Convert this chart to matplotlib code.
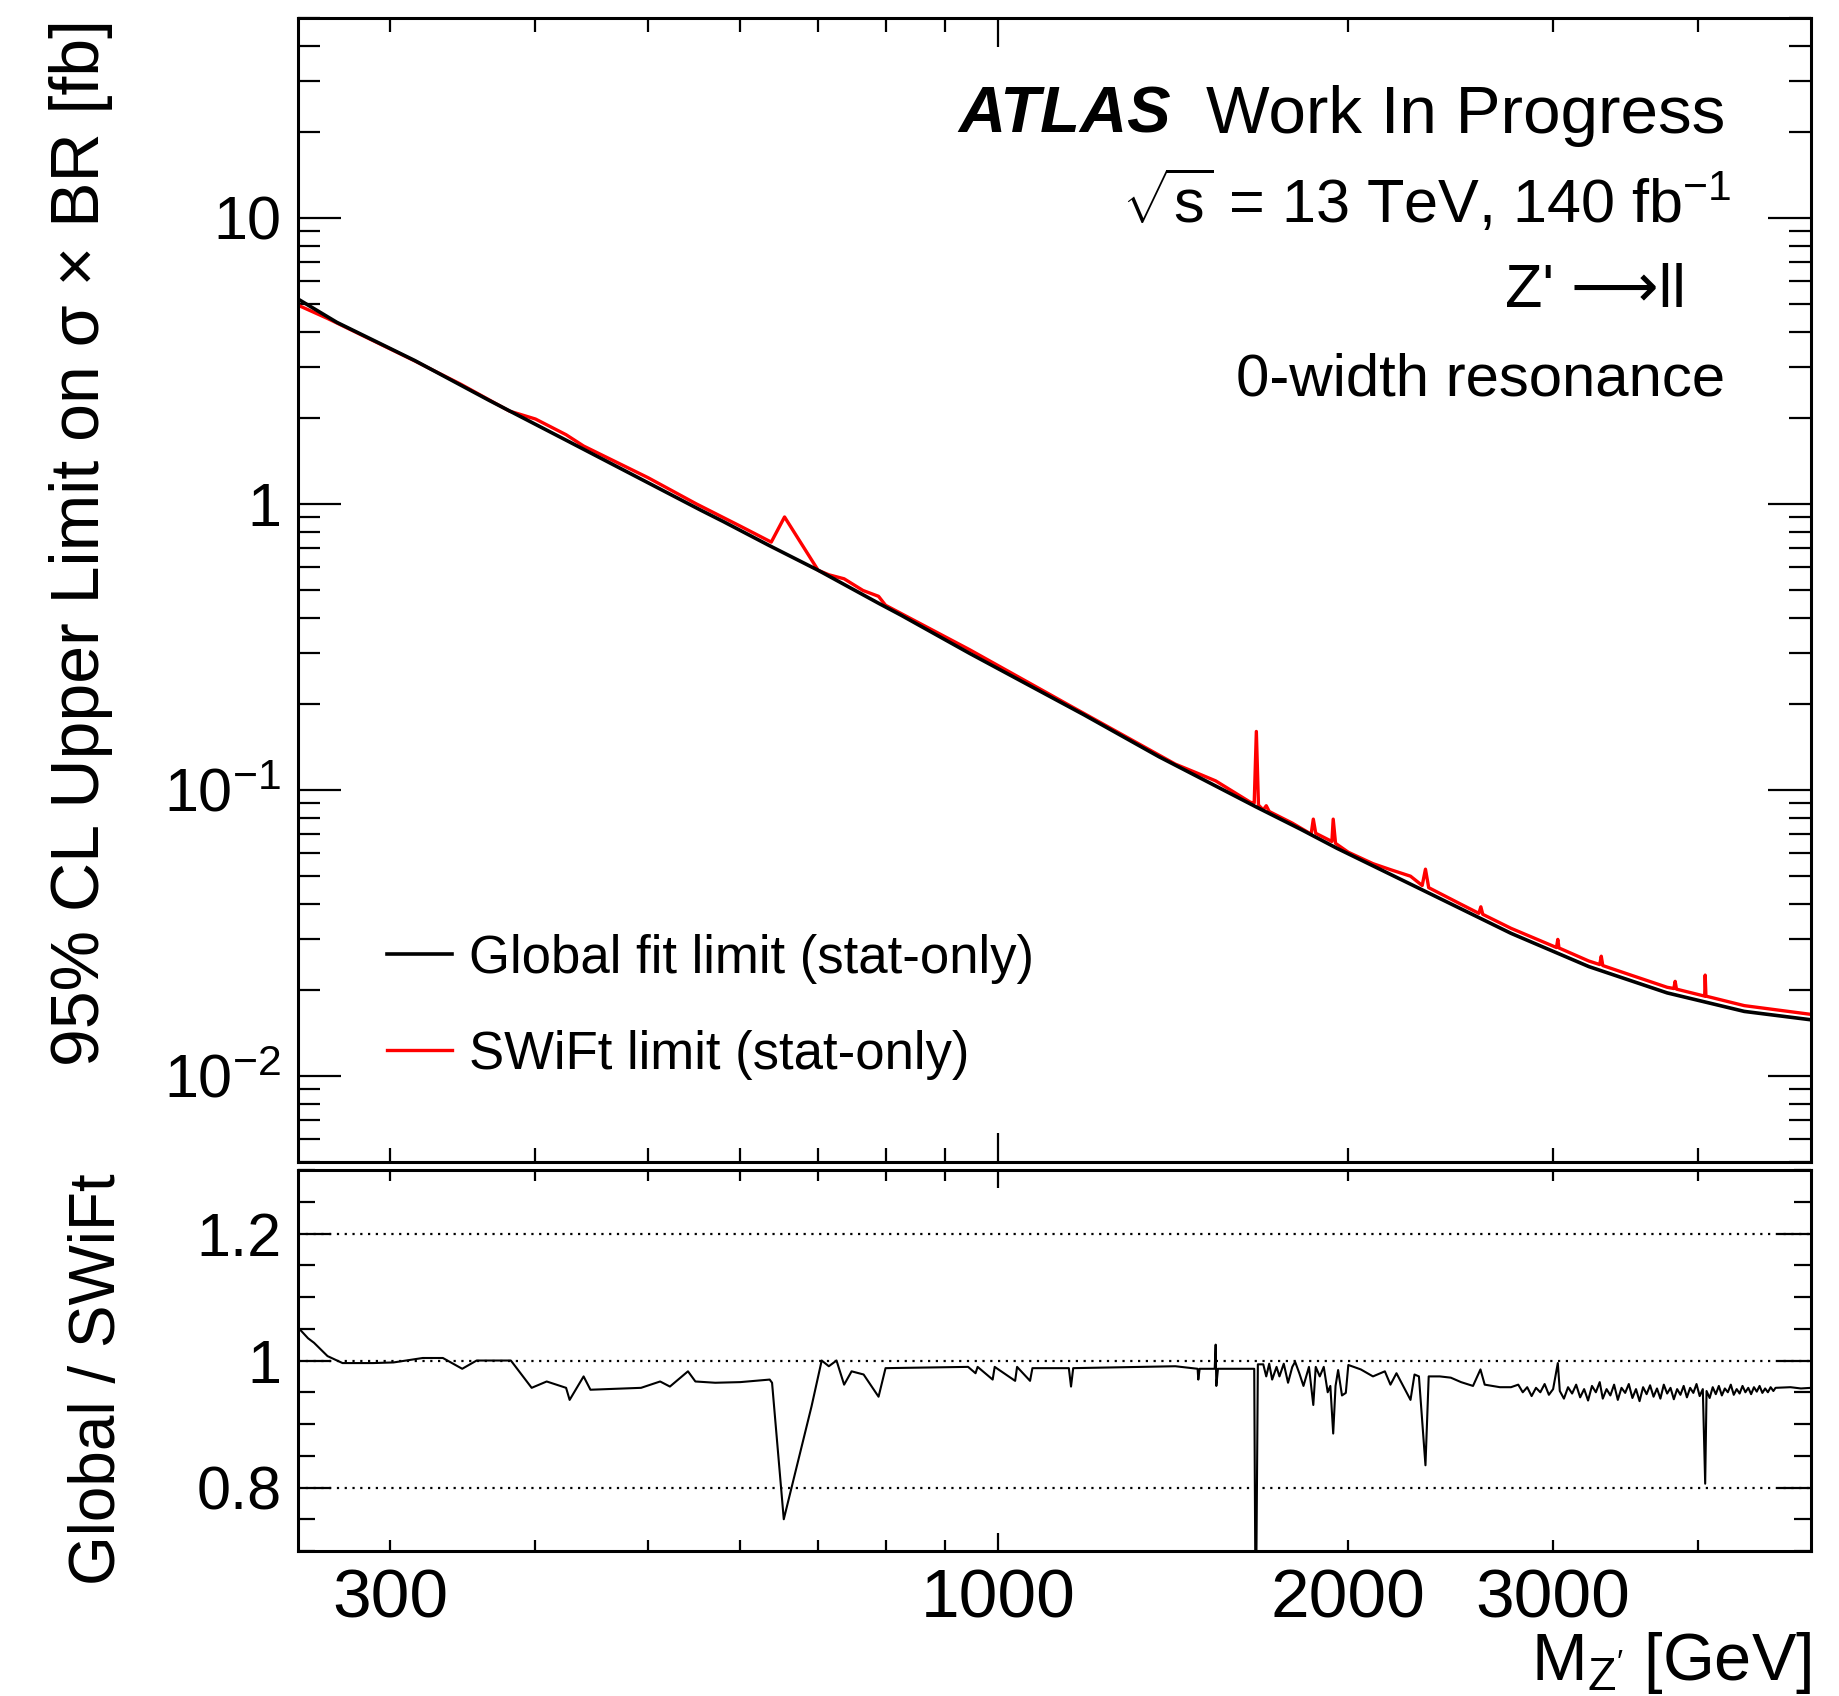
import matplotlib

matplotlib.use("Agg")
import matplotlib.pyplot as plt
from matplotlib.ticker import FixedFormatter, FixedLocator, NullFormatter

plt.rcParams["font.family"] = ["Liberation Sans", "DejaVu Sans"]
plt.rcParams["mathtext.fontset"] = "custom"
plt.rcParams["mathtext.rm"] = "Liberation Sans"
plt.rcParams["mathtext.it"] = "Liberation Sans:italic"
plt.rcParams["mathtext.bf"] = "Liberation Sans:bold"

# global fit limit [fb] vs Z' mass [GeV]
mass_global = [250, 270, 315, 365, 425, 495, 555, 580, 635, 700, 790, 825, 945,
               1185, 1375, 1495, 1665, 1820, 1955, 2315, 2760, 3220, 3760, 4380, 5000]
limit_global = [5.2, 4.31, 3.17, 2.30, 1.67, 1.21, 0.95, 0.868, 0.716, 0.586, 0.448,
                0.408, 0.300, 0.183, 0.1305, 0.1095, 0.0873, 0.0728, 0.0625, 0.0447,
                0.0315, 0.0241, 0.0195, 0.0168, 0.0157]

# SWiFt limit [fb]
mass_swift = [250, 265, 315, 345, 380, 400, 425, 440, 500, 550, 600, 638, 655, 700,
              715, 737, 765, 789, 800, 945, 1155, 1185, 1420, 1486, 1538, 1648, 1660,
              1667, 1674, 1690, 1700, 1710, 1790, 1858, 1866, 1875, 1936, 1941, 1950,
              2000, 2100, 2174, 2262, 2315, 2330, 2345, 2500, 2590, 2600, 2610, 2760,
              3020, 3028, 3035, 3220, 3290, 3300, 3310, 3500, 3760, 3810, 3820, 3830,
              4050, 4054, 4060, 4380, 5000]
limit_swift = [4.95, 4.45, 3.16, 2.62, 2.11, 1.98, 1.745, 1.593, 1.234, 1.0, 0.836,
               0.735, 0.90, 0.586, 0.565, 0.547, 0.498, 0.475, 0.442, 0.309, 0.196,
               0.185, 0.123, 0.114, 0.1075, 0.0904, 0.0900, 0.160, 0.0885, 0.0851,
               0.0880, 0.0840, 0.0765, 0.0700, 0.079, 0.0705, 0.0660, 0.079, 0.065,
               0.0605, 0.0552, 0.0526, 0.0499, 0.0463, 0.0528, 0.0455, 0.0398, 0.0370,
               0.0390, 0.0367, 0.0328, 0.0281, 0.0300, 0.0280, 0.0252, 0.0245, 0.0262,
               0.0243, 0.0225, 0.0204, 0.0202, 0.0214, 0.0201, 0.0190, 0.0225, 0.0190,
               0.0176, 0.0164]

# ratio Global / SWiFt
mass_ratio = [250, 255, 258, 265, 273, 290, 302, 320, 333, 346, 356, 381, 397, 409,
              425, 428, 440, 446, 493, 512, 522, 541, 549, 571, 600, 636, 639, 654,
              691, 705, 715, 726, 737, 748, 766, 789, 800, 942, 956, 960, 989, 993,
              1034, 1038, 1065, 1070, 1150, 1155, 1160, 1420, 1484, 1486, 1490, 1535,
              1538, 1540, 1545, 1660, 1665, 1672, 1690, 1700, 1710, 1720, 1735, 1745,
              1760, 1775, 1790, 1800, 1815, 1830, 1850, 1866, 1875, 1890, 1905, 1920,
              1930, 1941, 1950, 1960, 1975, 1990, 2000, 2050, 2100, 2150, 2174, 2200,
              2262, 2280, 2300, 2330, 2345, 2397, 2450, 2500, 2560, 2598, 2620, 2700,
              2760, 2800, 2825, 2850, 2875, 2900, 2925, 2950, 2975, 3000, 3028, 3040,
              3065, 3090, 3115, 3140, 3165, 3190, 3215, 3240, 3265, 3290, 3310, 3335,
              3360, 3385, 3410, 3435, 3460, 3485, 3510, 3535, 3560, 3585, 3610, 3635,
              3660, 3685, 3710, 3735, 3760, 3785, 3810, 3835, 3860, 3885, 3910, 3935,
              3960, 3985, 4010, 4035, 4054, 4065, 4090, 4115, 4140, 4165, 4190, 4215,
              4240, 4265, 4290, 4315, 4340, 4365, 4390, 4415, 4440, 4465, 4490, 4515,
              4540, 4565, 4590, 4615, 4640, 4660, 4800, 4900, 5000]
ratio = [1.052, 1.035, 1.028, 1.007, 0.996, 0.996, 0.997, 1.004, 1.004, 0.987, 1.000,
         1.000, 0.957, 0.967, 0.957, 0.938, 0.975, 0.954, 0.957, 0.967, 0.959, 0.983,
         0.967, 0.965, 0.966, 0.970, 0.965, 0.750, 0.928, 1.000, 0.991, 1.000, 0.962,
         0.983, 0.978, 0.943, 0.988, 0.990, 0.980, 0.990, 0.970, 0.990, 0.968, 0.990,
         0.968, 0.988, 0.988, 0.959, 0.988, 0.991, 0.987, 0.970, 0.987, 0.987, 1.025,
         0.960, 0.987, 0.987, 0.550, 0.994, 0.994, 0.975, 0.995, 0.970, 0.990, 0.975,
         0.995, 0.965, 0.990, 0.998, 0.980, 0.960, 0.990, 0.930, 0.990, 0.975, 0.990,
         0.950, 0.960, 0.885, 0.960, 0.985, 0.945, 0.949, 0.993, 0.986, 0.975, 0.983,
         0.962, 0.980, 0.938, 0.978, 0.975, 0.835, 0.975, 0.975, 0.973, 0.966, 0.960,
         0.986, 0.962, 0.958, 0.958, 0.962, 0.950, 0.958, 0.944, 0.957, 0.950, 0.963,
         0.946, 0.955, 0.996, 0.952, 0.940, 0.958, 0.948, 0.962, 0.942, 0.955, 0.937,
         0.960, 0.950, 0.966, 0.940, 0.955, 0.945, 0.962, 0.938, 0.957, 0.949, 0.963,
         0.941, 0.955, 0.936, 0.958, 0.947, 0.961, 0.943, 0.956, 0.940, 0.962, 0.948,
         0.957, 0.939, 0.955, 0.946, 0.960, 0.942, 0.957, 0.949, 0.963, 0.944, 0.955,
         0.806, 0.952, 0.941, 0.958, 0.947, 0.960, 0.945, 0.956, 0.950, 0.962, 0.946,
         0.955, 0.948, 0.960, 0.950, 0.957, 0.947, 0.958, 0.951, 0.960, 0.949, 0.956,
         0.950, 0.958, 0.952, 0.957, 0.958, 0.956, 0.957]

x_minor = [300, 400, 500, 600, 700, 800, 900, 2000, 3000, 4000]
x_minor_labels = ["300", "", "", "", "", "", "", "2000", "3000", ""]
y_major = [0.01, 0.1, 1, 10]
y_major_labels = [r"$10^{-2}$", r"$10^{-1}$", "1", "10"]
ratio_major = [0.8, 1.0, 1.2]
ratio_major_labels = ["0.8", "1", "1.2"]
ratio_minor = [0.7, 0.75, 0.85, 0.9, 0.95, 1.05, 1.1, 1.15, 1.25, 1.3]
y_minor = [f * 10.0 ** e for e in (-3, -2, -1, 0, 1) for f in range(2, 10)]


def _style(ax, major_len, minor_len):
    for spine in ax.spines.values():
        spine.set_linewidth(2.2)
    ax.tick_params(which="both", direction="in", top=True, right=True, width=1.6)
    ax.tick_params(which="major", length=major_len)
    ax.tick_params(which="minor", length=minor_len)


fig = plt.figure(figsize=(18.4, 16.96), dpi=100)
ax = fig.add_axes([0.162, 0.3149, 0.8223, 0.6745])
rax = fig.add_axes([0.162, 0.0855, 0.8223, 0.2246])

# main panel
ax.plot(mass_swift, limit_swift, color="#ff0000", lw=2.4, label="SWiFt limit (stat-only)")
ax.plot(mass_global, limit_global, color="black", lw=2.6, label="Global fit limit (stat-only)")
ax.set_xscale("log")
ax.set_yscale("log")
ax.set_xlim(250, 5000)
ax.set_ylim(0.005, 50)
ax.xaxis.set_major_locator(FixedLocator([1000]))
ax.xaxis.set_minor_locator(FixedLocator(x_minor))
ax.xaxis.set_major_formatter(NullFormatter())
ax.xaxis.set_minor_formatter(NullFormatter())
ax.yaxis.set_major_locator(FixedLocator(y_major))
ax.yaxis.set_major_formatter(FixedFormatter(y_major_labels))
ax.yaxis.set_minor_locator(FixedLocator(y_minor))
ax.yaxis.set_minor_formatter(NullFormatter())
_style(ax, 31, 16)
ax.tick_params(axis="x", which="major", length=21)
ax.tick_params(axis="x", which="minor", length=10)
ax.tick_params(axis="y", labelsize=44, pad=12)

handles, labels = ax.get_legend_handles_labels()
ax.legend(handles[::-1], labels[::-1], loc="lower left", bbox_to_anchor=(0.0588, 0.072),
          frameon=False, fontsize=38, handlelength=1.23, handletextpad=0.32,
          labelspacing=0.87, borderpad=0, borderaxespad=0)

fig.text(0.6365, 0.9218, "ATLAS", fontsize=47, fontweight="bold", style="italic",
         ha="right", va="baseline")
fig.text(0.9375, 0.9218, "Work In Progress", fontsize=48.5, ha="right", va="baseline")
fig.text(0.9408, 0.8685, r"$\sqrt{\mathrm{s}}$ = 13 TeV, 140 fb$^{-1}$", fontsize=44,
         ha="right", va="baseline")
fig.text(0.9163, 0.8187, "Z' \u27f6ll", fontsize=44, ha="right", va="baseline",
         family=["Liberation Sans", "DejaVu Sans"])
fig.text(0.9375, 0.7668, "0-width resonance", fontsize=43.2, ha="right", va="baseline")

# ratio panel
for level in ratio_major:
    rax.axhline(level, color="black", lw=1.6, ls=(0, (1, 2.5)))
rax.plot(mass_ratio, ratio, color="black", lw=1.5)
rax.set_xscale("log")
rax.set_xlim(250, 5000)
rax.set_ylim(0.7, 1.3)
rax.xaxis.set_major_locator(FixedLocator([1000]))
rax.xaxis.set_major_formatter(FixedFormatter(["1000"]))
rax.xaxis.set_minor_locator(FixedLocator(x_minor))
rax.xaxis.set_minor_formatter(FixedFormatter(x_minor_labels))
rax.yaxis.set_major_locator(FixedLocator(ratio_major))
rax.yaxis.set_major_formatter(FixedFormatter(ratio_major_labels))
rax.yaxis.set_minor_locator(FixedLocator(ratio_minor))
_style(rax, 24, 12)
rax.tick_params(axis="x", which="major", length=13)
rax.tick_params(axis="x", which="minor", length=8)
rax.tick_params(axis="x", which="both", labelsize=50, pad=12)
rax.tick_params(axis="y", labelsize=44, pad=12)

fig.text(0.044, 0.989, "95% CL Upper Limit on \u03c3 \u00d7 BR [fb]", fontsize=49,
         rotation=90, ha="center", va="top")
fig.text(0.053, 0.3083, "Global / SWiFt", fontsize=46, rotation=90, ha="center", va="top")
fig.text(0.9842, 0.0094, r"M$_{\mathrm{Z'}}$ [GeV]", fontsize=48, ha="right", va="baseline")

fig.savefig("out.png", dpi=100)
